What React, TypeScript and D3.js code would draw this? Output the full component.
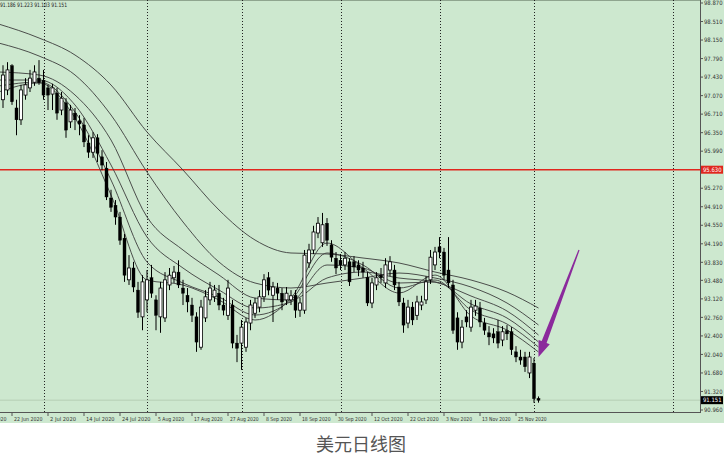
import React from "react";
import * as d3 from "d3";

const W = 724;
const H = 461;

// OHLC, first bar index -2 (18 Jun 2020) .. 117 (2 Dec 2020)
const firstIdx = -2;
const candles: [number, number, number, number][] = [
  [96.99, 97.66, 96.83, 97.47],
  [97.18, 97.72, 97.08, 97.57],
  [97.65, 97.68, 96.89, 96.95],
  [96.83, 96.99, 96.30, 96.60],
  [96.60, 97.28, 96.50, 97.18],
  [97.08, 97.41, 96.99, 97.28],
  [97.22, 97.57, 97.14, 97.41],
  [97.33, 97.66, 97.26, 97.53],
  [97.41, 97.76, 97.28, 97.32],
  [97.37, 97.57, 96.99, 97.08],
  [97.22, 97.28, 96.79, 97.08],
  [97.10, 97.30, 96.79, 97.22],
  [97.12, 97.22, 96.60, 96.73],
  [96.79, 97.14, 96.69, 97.02],
  [96.93, 97.02, 96.25, 96.40],
  [96.56, 96.89, 96.44, 96.79],
  [96.73, 96.83, 96.40, 96.60],
  [96.58, 96.69, 96.30, 96.52],
  [96.50, 96.64, 96.07, 96.17],
  [96.15, 96.30, 95.86, 95.97],
  [95.97, 96.36, 95.86, 96.25],
  [96.25, 96.32, 95.78, 95.95],
  [95.88, 96.01, 95.62, 95.72],
  [95.66, 95.78, 95.04, 95.10],
  [95.08, 95.24, 94.81, 94.90],
  [94.94, 95.04, 94.56, 94.71],
  [94.71, 94.81, 94.17, 94.26],
  [94.30, 94.38, 93.45, 93.58],
  [93.49, 93.97, 93.39, 93.72],
  [93.72, 93.84, 93.25, 93.35],
  [93.29, 93.45, 92.75, 92.86],
  [92.77, 93.58, 92.51, 93.45],
  [93.10, 93.68, 92.86, 93.49],
  [93.53, 93.78, 93.14, 93.23],
  [93.10, 93.19, 92.51, 92.80],
  [92.77, 93.45, 92.46, 93.33],
  [92.75, 93.64, 92.67, 93.49],
  [93.39, 93.72, 93.29, 93.58],
  [93.53, 93.76, 93.43, 93.64],
  [93.64, 93.87, 93.33, 93.39],
  [93.33, 93.49, 93.00, 93.23],
  [93.19, 93.33, 92.86, 93.06],
  [93.00, 93.14, 92.67, 92.80],
  [92.77, 92.86, 92.09, 92.28],
  [92.18, 93.10, 92.13, 92.96],
  [92.75, 93.29, 92.67, 93.16],
  [93.10, 93.45, 93.00, 93.33],
  [93.16, 93.39, 93.06, 93.29],
  [93.23, 93.39, 92.90, 93.00],
  [93.00, 93.14, 92.80, 92.90],
  [92.80, 93.49, 92.71, 93.33],
  [93.00, 93.10, 92.16, 92.26],
  [92.26, 92.42, 91.89, 92.16],
  [92.26, 92.71, 91.74, 92.57],
  [92.18, 92.75, 92.09, 92.67],
  [92.65, 93.10, 92.51, 93.00],
  [92.84, 93.14, 92.75, 93.04],
  [92.96, 93.29, 92.86, 93.16],
  [93.16, 93.60, 93.06, 93.49],
  [93.53, 93.64, 93.19, 93.29],
  [93.19, 93.45, 92.67, 93.35],
  [93.33, 93.43, 93.10, 93.23],
  [93.23, 93.33, 92.90, 93.06],
  [93.10, 93.35, 93.00, 93.23],
  [93.10, 93.29, 93.00, 93.18],
  [93.19, 93.29, 92.75, 92.90],
  [92.90, 93.14, 92.77, 93.04],
  [92.90, 94.07, 92.83, 93.97],
  [93.82, 94.19, 93.72, 94.07],
  [94.07, 94.54, 93.99, 94.42],
  [94.40, 94.71, 94.30, 94.59],
  [94.21, 94.79, 94.13, 94.56],
  [94.59, 94.69, 94.15, 94.26],
  [94.17, 94.26, 93.84, 93.93],
  [93.91, 94.03, 93.60, 93.72],
  [93.87, 93.99, 93.68, 93.78],
  [93.78, 94.03, 93.68, 93.91],
  [93.84, 93.91, 93.37, 93.45],
  [93.84, 93.95, 93.64, 93.74],
  [93.78, 93.87, 93.56, 93.68],
  [93.72, 93.84, 93.53, 93.64],
  [93.54, 93.64, 92.98, 93.04],
  [93.04, 93.53, 92.94, 93.43],
  [93.39, 93.64, 93.29, 93.53],
  [93.58, 93.72, 93.43, 93.53],
  [93.43, 93.91, 93.33, 93.78],
  [93.68, 93.95, 93.56, 93.84],
  [93.68, 93.78, 93.29, 93.39],
  [93.35, 93.45, 92.98, 93.06],
  [93.04, 93.14, 92.46, 92.61],
  [92.65, 93.10, 92.55, 92.96],
  [92.96, 93.06, 92.61, 92.71],
  [92.80, 93.18, 92.71, 93.06],
  [93.00, 93.18, 92.90, 93.06],
  [93.10, 93.56, 93.02, 93.45],
  [93.49, 94.07, 93.41, 93.93],
  [93.78, 94.13, 93.68, 94.03],
  [94.13, 94.32, 93.91, 94.03],
  [94.03, 94.11, 93.49, 93.58],
  [93.68, 94.32, 93.33, 93.43],
  [93.39, 93.49, 92.44, 92.51],
  [92.75, 92.86, 92.13, 92.28],
  [92.28, 92.71, 92.16, 92.57],
  [92.77, 92.90, 92.57, 92.67],
  [92.57, 93.10, 92.48, 92.96],
  [92.90, 93.10, 92.79, 92.98],
  [92.94, 93.06, 92.57, 92.67],
  [92.65, 92.75, 92.42, 92.51],
  [92.46, 92.59, 92.22, 92.38],
  [92.44, 92.55, 92.26, 92.36],
  [92.48, 92.71, 92.16, 92.26],
  [92.32, 92.59, 92.20, 92.48],
  [92.50, 92.61, 92.32, 92.44],
  [92.48, 92.57, 92.03, 92.13],
  [92.09, 92.20, 91.89, 91.99],
  [91.99, 92.13, 91.84, 91.93],
  [91.99, 92.09, 91.70, 91.80],
  [91.68, 92.09, 91.58, 91.99],
  [91.87, 91.97, 91.10, 91.18],
  [91.186, 91.223, 91.103, 91.151],
];

// Moving averages sampled at bar indices
const maIdx = [-3, 6, 14, 22, 30, 38, 46, 54, 62, 70, 78, 86, 94, 102, 110, 117];
const maA = [98.462, 98.19, 97.859, 97.276, 96.363, 95.624, 94.847, 94.264, 94.011, 93.992, 93.914, 93.817, 93.642, 93.486, 93.253, 92.942];
const maB = [98.093, 97.84, 97.471, 96.693, 95.585, 94.614, 93.836, 93.428, 93.331, 93.428, 93.525, 93.622, 93.525, 93.35, 93.039, 92.612];
const maC = [97.529, 97.471, 97.082, 96.207, 94.711, 94.069, 93.583, 93.136, 93.098, 93.525, 93.642, 93.525, 93.447, 93.175, 92.884, 92.417];
const maD = [97.373, 97.373, 96.888, 95.721, 94.322, 93.719, 93.292, 92.942, 93.059, 93.778, 93.719, 93.428, 93.447, 93.02, 92.748, 92.281];
const maE = [97.257, 97.335, 96.752, 95.43, 93.836, 93.428, 93.156, 92.806, 93.098, 94.011, 93.778, 93.331, 93.486, 92.903, 92.631, 92.184];
const maF = [97.14, 97.315, 96.635, 95.138, 93.486, 93.389, 93.098, 92.709, 93.136, 94.205, 93.719, 93.234, 93.583, 92.787, 92.514, 92.087];

const priceTicks = [98.87, 98.51, 98.15, 97.79, 97.43, 97.07, 96.71, 96.35, 95.99, 95.27, 94.91, 94.55, 94.19, 93.83, 93.48, 93.12, 92.76, 92.4, 92.04, 91.68, 91.32, 90.96];
const dateLabels = ["10 Jun 2020", "22 Jun 2020", "2 Jul 2020", "14 Jul 2020", "24 Jul 2020", "5 Aug 2020", "17 Aug 2020", "27 Aug 2020", "8 Sep 2020", "18 Sep 2020", "30 Sep 2020", "12 Oct 2020", "22 Oct 2020", "3 Nov 2020", "13 Nov 2020", "25 Nov 2020"];
const dateIdx = [-8, 0, 8, 16, 24, 32, 40, 48, 56, 64, 72, 80, 88, 96, 104, 112];
const separatorIdx = [7, 30, 51, 73, 95, 116, 147];
const redLevel = 95.63;
const lastPrice = 91.151;
const headerText = "91.186 91.223 91.103 91.151";
const caption = "美元日线图";
// arrow annotation: [bar index, price] of tail and tip
const arrowTail = [126, 94.07];
const arrowTip = [117, 91.99];

const PLOT_R = 700;
const PLOT_B = 412;
const BG = "#cde8cf";

export default function App() {
  const x = d3.scaleLinear().domain([0, 116]).range([12, 534]);
  const y = d3.scaleLinear().domain([90.96, 98.87]).range([410, 3]);

  const maLine = d3
    .line<number>()
    .x((_, i) => x(maIdx[i]))
    .y((d) => y(d))
    .curve(d3.curveMonotoneX);

  const mas = [maA, maB, maC, maD, maE, maF];

  // arrow polygon
  const tx = x(arrowTip[0]);
  const ty = y(arrowTip[1]);
  const sx = x(arrowTail[0]);
  const sy = y(arrowTail[1]);
  const dx = sx - tx;
  const dy = sy - ty;
  const len = Math.hypot(dx, dy);
  const ux = dx / len;
  const uy = dy / len;
  const nx = -uy;
  const ny = ux;
  const headLen = 16;
  const headHalf = 6;
  const shaftHalf = 2.6;
  const bx = tx + ux * headLen;
  const by = ty + uy * headLen;
  const arrowPts = [
    [tx, ty],
    [bx + nx * headHalf, by + ny * headHalf],
    [bx + nx * shaftHalf, by + ny * shaftHalf],
    [sx + nx * 0.6, sy + ny * 0.6],
    [sx - nx * 0.6, sy - ny * 0.6],
    [bx - nx * shaftHalf, by - ny * shaftHalf],
    [bx - nx * headHalf, by - ny * headHalf],
  ]
    .map((p) => p.join(","))
    .join(" ");

  const axisFont = "'DejaVu Sans', sans-serif";

  return (
    <svg
      width={W}
      height={H}
      style={{ position: "absolute", left: 0, top: 0, background: "#fff" }}
    >
      <rect x={0} y={0} width={W} height={423} fill={BG} />
      <defs>
        <clipPath id="plot">
          <rect x={0} y={0} width={PLOT_R} height={PLOT_B} />
        </clipPath>
      </defs>
      <line x1={0} x2={PLOT_R} y1={0.5} y2={0.5} stroke="#8fa58f" strokeWidth={1} />

      <g clipPath="url(#plot)">
        {separatorIdx.map((s, i) => (
          <line
            key={"sep" + i}
            x1={Math.round(x(s)) + 0.5}
            x2={Math.round(x(s)) + 0.5}
            y1={0}
            y2={PLOT_B}
            stroke="#222"
            strokeWidth={1}
            strokeDasharray="1,2"
          />
        ))}
        <line
          x1={0}
          x2={PLOT_R}
          y1={y(lastPrice)}
          y2={y(lastPrice)}
          stroke="#b5cfb6"
          strokeWidth={1}
        />
        <line
          x1={0}
          x2={PLOT_R}
          y1={y(redLevel)}
          y2={y(redLevel)}
          stroke="#e0261e"
          strokeWidth={1.6}
        />
        {mas.map((m, i) => (
          <path key={"ma" + i} d={maLine(m) || ""} fill="none" stroke="#3c3c3c" strokeWidth={0.9} />
        ))}
        {candles.map((c, i) => {
          const idx = firstIdx + i;
          const cx = x(idx);
          const [o, h, l, cl] = c;
          const up = cl >= o;
          const top = y(Math.max(o, cl));
          const bot = y(Math.min(o, cl));
          return (
            <g key={"c" + i}>
              <line x1={cx} x2={cx} y1={y(h)} y2={y(l)} stroke="#000" strokeWidth={1} />
              <rect
                x={cx - 1.5}
                y={top}
                width={3}
                height={Math.max(1, bot - top)}
                fill={up ? "#fff" : "#000"}
                stroke="#000"
                strokeWidth={up ? 0.8 : 0.4}
              />
            </g>
          );
        })}
        <polygon points={arrowPts} fill="#8b2a9c" />
      </g>

      <text
        x={0}
        y={6.5}
        fontFamily={axisFont}
        fontSize={6}
        fill="#222"
        textLength={67}
        lengthAdjust="spacingAndGlyphs"
      >
        {headerText}
      </text>

      {/* axes */}
      <line x1={PLOT_R + 0.5} x2={PLOT_R + 0.5} y1={0} y2={PLOT_B + 1} stroke="#555" strokeWidth={1} />
      <line x1={0} x2={PLOT_R} y1={PLOT_B + 0.5} y2={PLOT_B + 0.5} stroke="#555" strokeWidth={1} />

      {priceTicks.map((p, i) => (
        <g key={"pt" + i}>
          <line x1={PLOT_R} x2={PLOT_R + 3} y1={y(p)} y2={y(p)} stroke="#555" strokeWidth={1} />
          <text
            x={PLOT_R + 4}
            y={y(p) + 2.2}
            fontFamily={axisFont}
            fontSize={6}
            fill="#333"
            textLength={18.5}
            lengthAdjust="spacingAndGlyphs"
          >
            {p.toFixed(3)}
          </text>
        </g>
      ))}
      <rect x={PLOT_R + 1} y={y(redLevel) - 4} width={22} height={8} fill="#e0261e" />
      <text
        x={PLOT_R + 3}
        y={y(redLevel) + 2.2}
        fontFamily={axisFont}
        fontSize={6}
        fill="#fff"
        textLength={18.5}
        lengthAdjust="spacingAndGlyphs"
      >
        {redLevel.toFixed(3)}
      </text>
      <rect x={PLOT_R + 1} y={y(lastPrice) - 4} width={22} height={8} fill="#000" />
      <text
        x={PLOT_R + 3}
        y={y(lastPrice) + 2.2}
        fontFamily={axisFont}
        fontSize={6}
        fill="#fff"
        textLength={18.5}
        lengthAdjust="spacingAndGlyphs"
      >
        {lastPrice.toFixed(3)}
      </text>

      <g>
        {dateLabels.map((d, i) => {
          const dx0 = x(dateIdx[i]);
          return (
            <g key={"d" + i}>
              <line x1={dx0} x2={dx0} y1={PLOT_B} y2={PLOT_B + 4} stroke="#555" strokeWidth={1} />
              <text
                x={dx0 + 2}
                y={PLOT_B + 8.5}
                fontFamily={axisFont}
                fontSize={5.5}
                fill="#333"
                textLength={d.length * 2.6}
                lengthAdjust="spacingAndGlyphs"
              >
                {d}
              </text>
            </g>
          );
        })}
      </g>

      <text
        x={361}
        y={451}
        textAnchor="middle"
        fontFamily="'Noto Sans CJK SC', sans-serif"
        fontSize={18}
        fill="#555"
      >
        {caption}
      </text>
    </svg>
  );
}
